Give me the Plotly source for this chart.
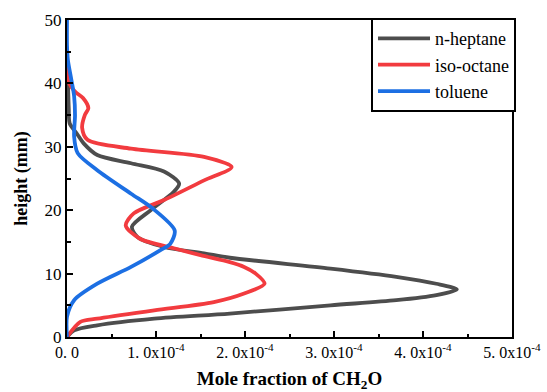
import plotly.graph_objects as go

# Mole fraction of CH2O in units of 1e-4, heights in mm
heptane_h = [0, 1.05, 1.85, 2.9, 3.7, 5.0, 5.8, 6.6, 7.5, 8.4, 9.5, 10.8, 12.5, 13.2, 14.2, 15.8, 17.4,
             20.0, 22.9, 24.2, 26.1, 27.4, 28.7, 30.5, 32.1, 33.7, 36.0, 40.0, 42.0]
heptane_x = [0, 0.08, 0.34, 0.98, 1.83, 2.96, 3.70, 4.15, 4.38, 4.15, 3.70, 2.96, 1.83, 1.54, 1.09, 0.79, 0.73,
             0.94, 1.20, 1.26, 1.09, 0.72, 0.34, 0.19, 0.11, 0.03, 0.02, 0.01, 0.0]

octane_h = [0, 2.4, 2.9, 4.2, 5.5, 6.85, 8.4, 10.0, 11.05, 11.8, 12.9, 14.0, 15.5, 17.6, 19.5, 21.6, 24.7,
            26.8, 28.4, 29.7, 31.1, 33.0, 35.0, 36.1, 37.7, 38.7, 40.5, 43.0]
octane_x = [0, 0.15, 0.34, 0.98, 1.65, 1.99, 2.22, 2.12, 1.99, 1.83, 1.50, 1.20, 0.82, 0.66, 0.75, 1.09, 1.54,
            1.85, 1.54, 0.72, 0.23, 0.17, 0.20, 0.24, 0.18, 0.09, 0.01, 0.0]

toluene_h = [0, 3.2, 5.8, 8.4, 11.05, 13.7, 14.7, 16.8, 20.3, 22.6, 26.3, 29.0, 31.6, 35.0, 38.0, 40.5,
             43.7, 46.0, 50.0]
toluene_x = [0, 0.0, 0.08, 0.34, 0.72, 1.05, 1.16, 1.21, 0.96, 0.72, 0.34, 0.12, 0.08, 0.09, 0.08, 0.05,
             0.01, 0.0, 0.0]

x_tickvals = [0, 1e-4, 2e-4, 3e-4, 4e-4, 5e-4]
x_ticktext = ["0. 0", "1. 0x10<sup>-4</sup>", "2. 0x10<sup>-4</sup>", "3. 0x10<sup>-4</sup>",
              "4. 0x10<sup>-4</sup>", "5. 0x10<sup>-4</sup>"]
y_tickvals = [0, 10, 20, 30, 40, 50]

series = [
    ("n-heptane", heptane_x, heptane_h, "#4d4d4d"),
    ("iso-octane", octane_x, octane_h, "#f23b3f"),
    ("toluene", toluene_x, toluene_h, "#1c6fe3"),
]

fig = go.Figure()
for name, xs, hs, color in series:
    fig.add_trace(go.Scatter(
        x=[v * 1e-4 for v in xs], y=hs, mode="lines", name=name,
        line=dict(color=color, width=3.8, shape="spline", smoothing=0.8),
    ))

font_family = "Liberation Serif, DejaVu Serif, serif"
fig.update_layout(
    width=547, height=392,
    margin=dict(l=67, r=35, t=20, b=55),
    paper_bgcolor="white", plot_bgcolor="white",
    font=dict(family=font_family, color="black", size=16),
    showlegend=True,
    legend=dict(x=1.009, y=1.006, xanchor="right", yanchor="top",
                bordercolor="black", borderwidth=2, bgcolor="white",
                font=dict(size=18, family=font_family, color="black"), tracegroupgap=0,
                itemwidth=52),
)
fig.update_xaxes(
    range=[0, 5e-4], tickvals=x_tickvals, ticktext=x_ticktext, automargin=False,
    showline=True, linecolor="black", linewidth=2, mirror=True,
    ticks="inside", ticklen=6, tickwidth=1.5, tickcolor="black",
    minor=dict(ticks="inside", ticklen=3.5, tickwidth=1.5, tickcolor="black", dtick=0.5e-4, tick0=0),
    showgrid=False, zeroline=False,
    tickfont=dict(size=16, family=font_family, color="black"),
    title=dict(text="<b>Mole fraction of CH<sub>2</sub>O</b>", font=dict(size=19, family=font_family, color="black"), standoff=14),
)
fig.update_yaxes(
    range=[0, 50], tickvals=y_tickvals, automargin=False,
    showline=True, linecolor="black", linewidth=2, mirror=True,
    ticks="inside", ticklen=6, tickwidth=1.5, tickcolor="black",
    minor=dict(ticks="inside", ticklen=3.5, tickwidth=1.5, tickcolor="black", dtick=5, tick0=0),
    showgrid=False, zeroline=False,
    tickfont=dict(size=17, family=font_family, color="black"),
    title=dict(text="<b>height (mm)</b>", font=dict(size=18, family=font_family, color="black"), standoff=12),
)

fig.write_html("out.html")
